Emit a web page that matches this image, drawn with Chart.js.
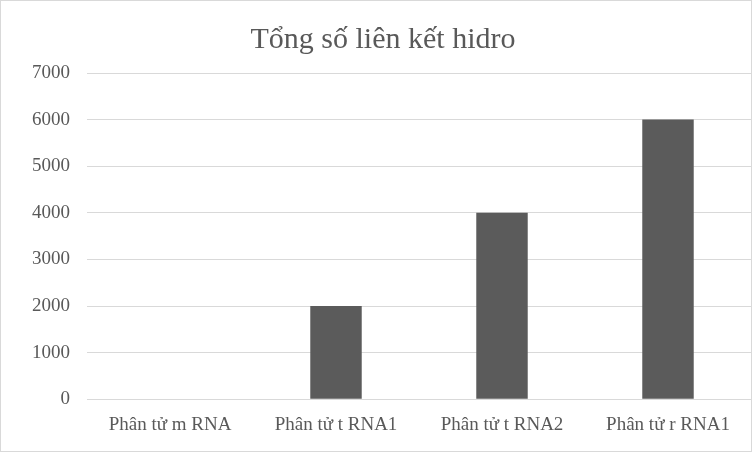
<!DOCTYPE html>
<html>
<head>
<meta charset="utf-8">
<script src="https://cdn.jsdelivr.net/npm/chart.js@4/dist/chart.umd.min.js"></script>
<style>
  html, body { margin: 0; padding: 0; background: #fff; }
  #wrap { width: 750px; height: 450px; border: 1px solid #d9d9d9; position: relative; }
</style>
</head>
<body>
<div id="wrap"><canvas id="c"></canvas></div>
<script>
const categories = ['Phân tử m RNA', 'Phân tử t RNA1', 'Phân tử t RNA2', 'Phân tử r RNA1'];
const hydrogenBonds = [0, 2000, 4000, 6000];
const yTicks = [0, 1000, 2000, 3000, 4000, 5000, 6000, 7000];

const font = "'Liberation Serif', 'DejaVu Serif', serif";

new Chart(document.getElementById('c'), {
  type: 'bar',
  data: {
    labels: categories,
    datasets: [{
      label: 'Tổng số liên kết hidro',
      data: hydrogenBonds,
      backgroundColor: '#5b5b5b',
      categoryPercentage: 1,
      barPercentage: 0.31,
    }],
  },
  options: {
    responsive: true,
    maintainAspectRatio: false,
    animation: false,
    layout: { padding: { left: 14, right: 0, top: 19, bottom: 9 } },
    plugins: {
      legend: { display: false },
      tooltip: { enabled: false },
      title: {
        display: true,
        text: 'Tổng số liên kết hidro',
        color: '#595959',
        font: { family: font, size: 30, weight: 'normal' },
        padding: { top: 2, bottom: 15 },
      },
    },
    scales: {
      x: {
        grid: { display: false },
        border: { color: '#d9d9d9' },
        ticks: { color: '#595959', font: { family: font, size: 19 }, padding: 6 },
      },
      y: {
        min: 0,
        max: 7000,
        afterBuildTicks: (axis) => { axis.ticks = yTicks.map((v) => ({ value: v })); },
        grid: { color: '#d9d9d9', drawTicks: false },
        border: { display: false },
        ticks: { color: '#595959', font: { family: font, size: 19 }, padding: 17, callback: (v) => String(v) },
      },
    },
  },
});
</script>
</body>
</html>
